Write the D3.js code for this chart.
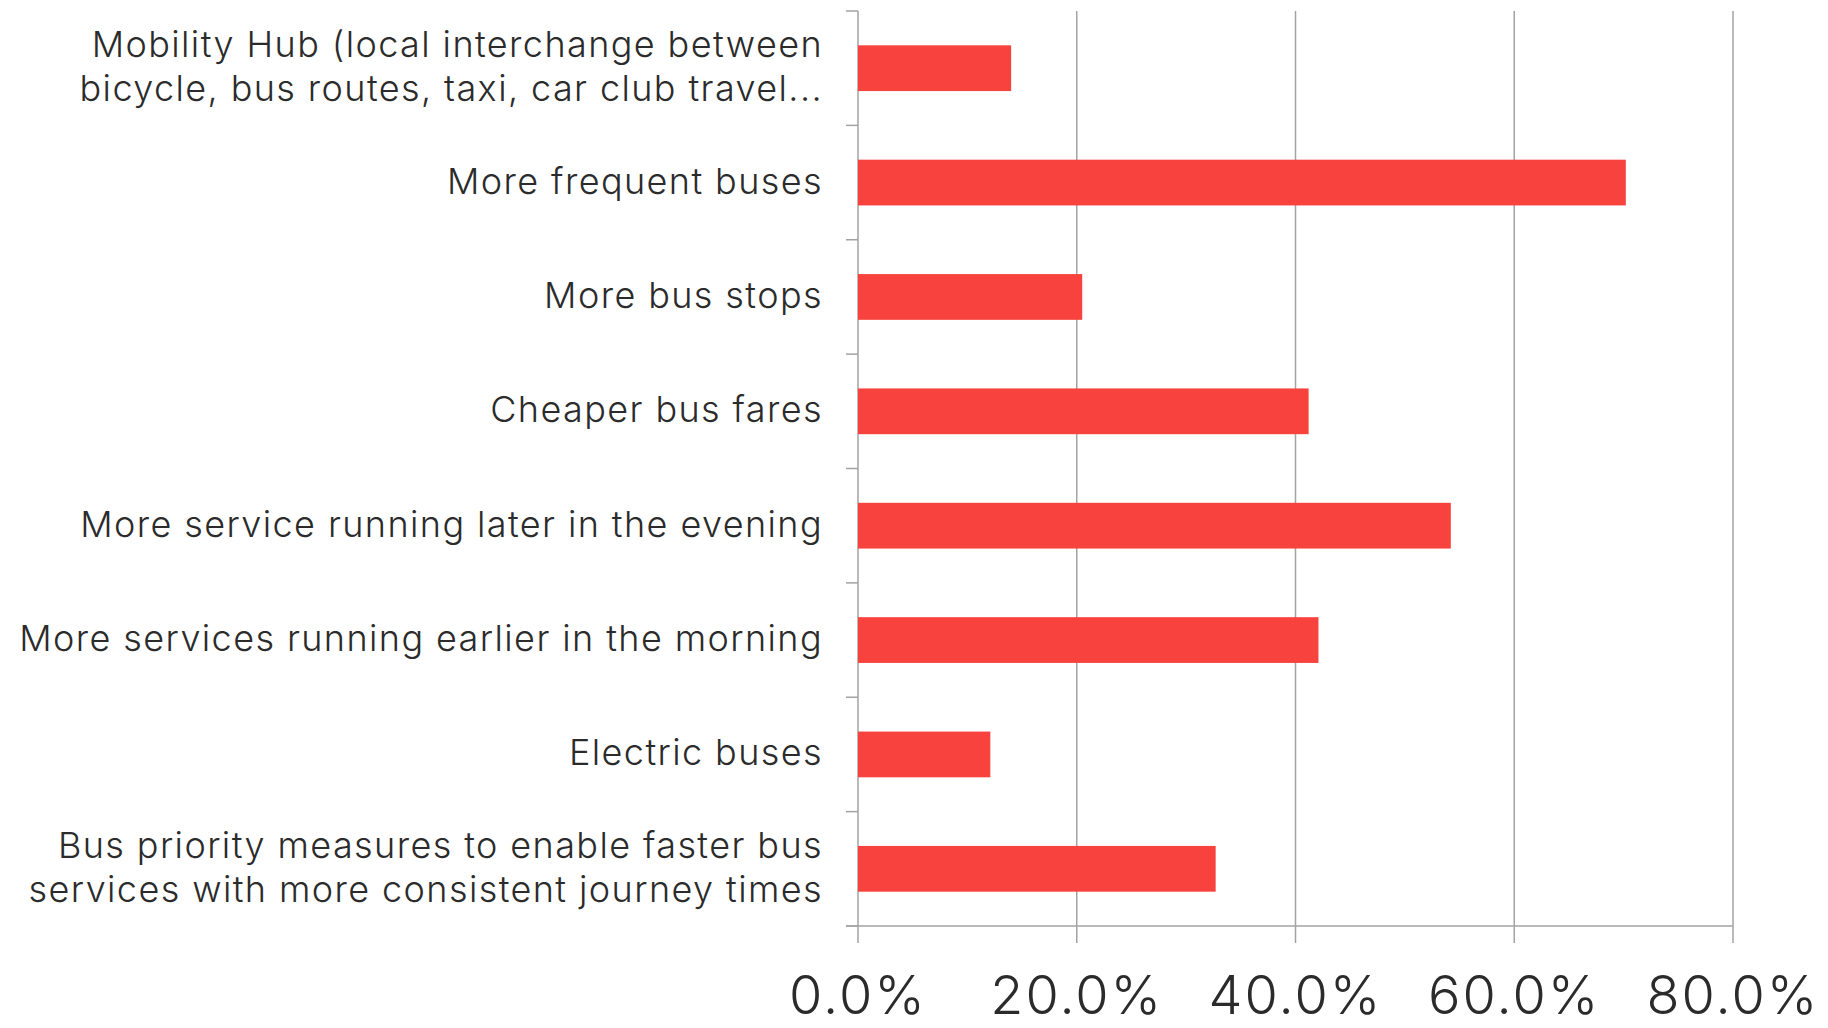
<!DOCTYPE html>
<html>
<head>
<meta charset="utf-8">
<script src="https://cdn.jsdelivr.net/npm/d3@7"></script>
<style>
  html, body { margin: 0; padding: 0; background: #ffffff; }
  svg { display: block; }
  .cat-label { font-family: Inter, "Noto Sans", sans-serif; font-weight: 300; fill: #2b2b2b; letter-spacing: 1.4px; }
  .tick-label { font-family: Inter, "Noto Sans", sans-serif; font-weight: 300; fill: #2b2b2b; letter-spacing: 2px; }
</style>
</head>
<body>
<svg id="chart" width="1828" height="1028"></svg>
<script>
// Survey responses: which bus improvements would encourage use
const categories = [
  ["Mobility Hub (local interchange between", "bicycle, bus routes, taxi, car club travel..."],
  ["More frequent buses"],
  ["More bus stops"],
  ["Cheaper bus fares"],
  ["More service running later in the evening"],
  ["More services running earlier in the morning"],
  ["Electric buses"],
  ["Bus priority measures to enable faster bus", "services with more consistent journey times"]
];
const shares = [0.140, 0.702, 0.205, 0.412, 0.542, 0.421, 0.121, 0.327];
const xTicks = [0, 0.2, 0.4, 0.6, 0.8];
const xTickLabels = ["0.0%", "20.0%", "40.0%", "60.0%", "80.0%"];

const W = 1828, H = 1028;
const plot = { left: 858, right: 1733, top: 11, bottom: 926 };
const svg = d3.select("#chart");

const x = d3.scaleLinear().domain([0, 0.8]).range([plot.left, plot.right]);
const y = d3.scaleBand().domain(d3.range(categories.length)).range([plot.top, plot.bottom]).padding(0);

const gridColor = "#a3a3a3";

// vertical gridlines (also serve as x tick marks below the axis)
svg.append("g")
  .selectAll("line")
  .data(xTicks)
  .join("line")
  .attr("x1", d => x(d)).attr("x2", d => x(d))
  .attr("y1", plot.top).attr("y2", plot.bottom + 17)
  .attr("stroke", gridColor).attr("stroke-width", 1.5);

// bottom axis line
svg.append("line")
  .attr("x1", plot.left - 12).attr("x2", plot.right)
  .attr("y1", plot.bottom).attr("y2", plot.bottom)
  .attr("stroke", gridColor).attr("stroke-width", 1.5);

// left category ticks at band boundaries
const boundaries = d3.range(categories.length + 1).map(i => plot.top + i * y.step());
svg.append("g")
  .selectAll("line")
  .data(boundaries)
  .join("line")
  .attr("x1", plot.left - 12).attr("x2", plot.left)
  .attr("y1", d => d).attr("y2", d => d)
  .attr("stroke", gridColor).attr("stroke-width", 1.5);

// bars
const barH = y.step() * 0.4;
svg.append("g")
  .selectAll("rect")
  .data(shares)
  .join("rect")
  .attr("x", x(0))
  .attr("y", (d, i) => y(i) + y.bandwidth() / 2 - barH / 2)
  .attr("width", d => x(d) - x(0))
  .attr("height", barH)
  .attr("fill", "#f8423e");

// category labels, right-aligned next to the axis
const lineGap = 44;
const labels = svg.append("g")
  .selectAll("text")
  .data(categories)
  .join("text")
  .attr("class", "cat-label")
  .attr("text-anchor", "end")
  .attr("font-size", 36);
labels.each(function (lines, i) {
  const cy = y(i) + y.bandwidth() / 2;
  d3.select(this).selectAll("tspan")
    .data(lines)
    .join("tspan")
    .attr("x", 823)
    .attr("y", (l, j) => cy + 11 + (j - (lines.length - 1) / 2) * lineGap)
    .text(l => l);
});

// x tick labels
svg.append("g")
  .selectAll("text")
  .data(xTicks)
  .join("text")
  .attr("class", "tick-label")
  .attr("text-anchor", "middle")
  .attr("font-size", 54)
  .attr("x", d => x(d))
  .attr("y", 1014)
  .text((d, i) => xTickLabels[i]);
</script>
</body>
</html>
